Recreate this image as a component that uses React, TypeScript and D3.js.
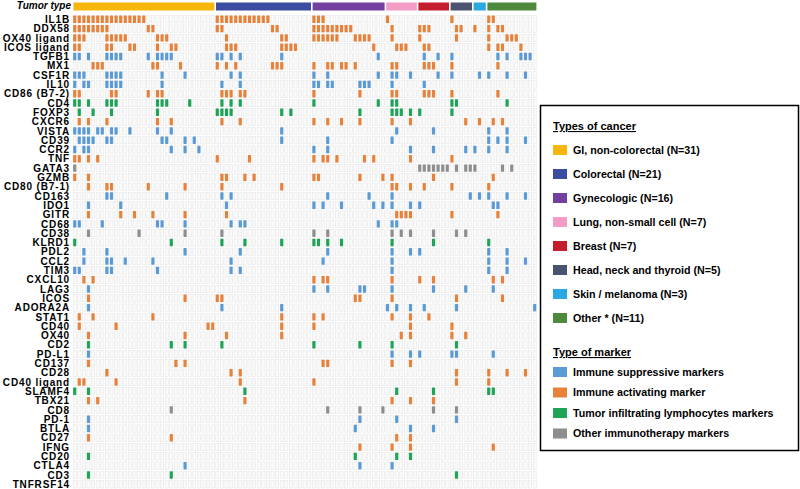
import React from "react";
import * as d3 from "d3";

const genes = ["IL1B","DDX58","OX40 ligand","ICOS ligand","TGFB1","MX1","CSF1R","IL10","CD86 (B7-2)","CD4","FOXP3","CXCR6","VISTA","CD39","CCR2","TNF","GATA3","GZMB","CD80 (B7-1)","CD163","IDO1","GITR","CD68","CD38","KLRD1","PDL2","CCL2","TIM3","CXCL10","LAG3","ICOS","ADORA2A","STAT1","CD40","OX40","CD2","PD-L1","CD137","CD28","CD40 ligand","SLAMF4","TBX21","CD8","PD-1","BTLA","CD27","IFNG","CD20","CTLA4","CD3","TNFRSF14"];

// s = suppressive, a = activating, t = TIL, o = other
const geneMarker = ["a","a","a","a","s","a","s","s","a","t","t","a","s","s","s","a","o","a","a","s","s","a","s","o","t","s","s","s","a","s","a","s","a","a","a","t","s","a","a","a","t","a","o","s","s","a","a","t","s","t","s"];

// patient columns (0..100) with the marker present, one list per gene
const geneHits: number[][] = [
  [0,1,2,3,4,5,6,7,8,9,10,11,12,13,14,15,31,32,33,34,35,36,37,38,39,40,41,42,52,53,54,68,82,90,91],
  [0,1,2,3,4,5,6,7,16,17,31,32,43,44,52,53,54,55,56,57,58,59,60,69,75,76,77,83,84,87,90,92,93],
  [0,1,2,7,8,9,10,11,18,19,20,33,45,46,52,53,54,55,56,57,61,62,63,64,69,75,83,90,94,95,96],
  [0,1,7,8,12,13,18,21,22,33,34,35,45,46,47,48,65,70,71,72,76,77,90,92,93,97],
  [0,1,3,7,8,9,10,16,18,19,20,21,31,32,34,36,45,66,76,79,82,92,94,97,98,99],
  [4,5,6,17,18,23,31,33,35,43,44,45,52,55,56,58,59,61,69,70,76,77,78,82,92],
  [0,1,2,7,8,9,10,19,24,34,36,52,55,66,69,70,73,79,82,88,90,94,98],
  [0,2,3,7,8,9,10,19,32,36,52,53,55,56,62,63,64,69,76],
  [0,1,8,9,16,18,19,32,33,34,36,37,52,62,69,70,76,77,78,82,92],
  [0,1,3,7,8,9,18,19,20,25,32,34,36,52,66,69,70,82,83,94],
  [1,4,8,18,31,32,33,34,45,47,62,69,70,71,73,75,82],
  [1,3,7,18,21,32,36,52,55,58,62,69,73,85,88,91,93],
  [0,1,2,3,5,6,8,9,12,18,21,45,70,78,90,94],
  [1,2,3,4,7,8,19,20,24,26,45,55,69,90,92,94,98],
  [0,2,3,21,24,27,52,55,73,78,85,87,90,94],
  [0,1,3,5,31,38,52,54,55,57,63,65,73,82],
  [0,75,76,77,78,79,80,81,83,85,86,87,93,95],
  [0,3,32,33,37,39,52,53,62,67,69,78,91],
  [3,7,8,16,24,32,45,69,70,73,76,82,90],
  [7,8,20,32,34,55,64,69,86,88,90,94,98],
  [3,10,33,52,54,58,65,67,69,73,75,91,92],
  [3,10,13,17,24,33,70,71,72,73,82,92],
  [0,1,6,18,19,24,34,36,37,66,69,70],
  [3,14,24,32,52,55,69,71,73,78,83,85],
  [0,21,32,37,45,52,53,55,58,69,78,90],
  [2,7,24,36,55,69,73,75,90,94],
  [2,7,8,11,17,34,54,69,90,94,98],
  [0,1,7,8,18,34,36,69,90,94],
  [2,4,52,54,55,69,75,78,91,93],
  [3,52,55,62,63,69,78,85,91],
  [3,24,31,32,61,62,69,83,93],
  [3,32,45,68,70,73,76,83,100],
  [1,4,17,45,52,54,69,73,77],
  [1,9,29,30,45,52,73,82],
  [3,24,33,45,71,73,82,85],
  [3,21,24,32,52,62,69,83],
  [3,69,73,75,82,83,91],
  [3,22,24,54,55,69,73],
  [7,34,36,83,90,94,98],
  [1,2,9,36,52,83,90],
  [0,3,37,70,78,90,91],
  [3,5,37,69,73,78],
  [21,55,62,67,78,83],
  [3,62,70,83],
  [3,61,73,78],
  [3,21,70,73],
  [62,69,73,91],
  [3,61,70,73],
  [24,62,69],
  [3,21,83],
  [],
];

const tumorTypes = ["GI, non-colorectal","Colorectal","Gynecologic","Lung, non-small cell","Breast","Head, neck and thyroid","Skin / melanoma","Other *"];
const tumorCounts = [31, 21, 16, 7, 7, 5, 3, 11];
const tumorColors = ["#F6B60C", "#3A4DA0", "#7440A0", "#F29CC6", "#C41E2E", "#4A5470", "#2BA8E0", "#4E8A3C"];
const tumorLegendLabels = ["GI, non-colorectal (N=31)","Colorectal (N=21)","Gynecologic (N=16)","Lung, non-small cell (N=7)","Breast (N=7)","Head, neck and thyroid (N=5)","Skin / melanoma (N=3)","Other * (N=11)"];

const markerKeys = ["s", "a", "t", "o"];
const markerLabels = ["Immune suppressive markers","Immune activating marker","Tumor infiltrating lymphocytes markers","Other immunotherapy markers"];
const markerColors = ["#5B9BD5", "#E8823A", "#1EA456", "#8E8E8E"];

const nPatients = d3.sum(tumorCounts);

export default function App() {
  const width = 800, height = 489;
  const x = d3.scaleBand<number>().domain(d3.range(nPatients)).range([72.4, 537]);
  const y = d3.scaleBand<string>().domain(genes).range([14.65, 488.95]);
  const colorOf = d3.scaleOrdinal<string, string>().domain(markerKeys).range(markerColors);
  const starts = d3.cumsum(tumorCounts).map((v, i) => v - tumorCounts[i]);
  const bw = x.bandwidth();
  const cellW = bw * 0.68;
  const cellH = y.bandwidth() * 0.8;
  const font = "Arial, 'Liberation Sans', sans-serif";

  return (
    <svg width={width} height={height} style={{ position: "absolute", left: 0, top: 0, background: "#fff" }} fontFamily={font}>
      <text x={71} y={9} textAnchor="end" fontSize={10} fontWeight="bold" fontStyle="italic">Tumor type</text>
      {tumorCounts.map((c, i) => (
        <rect key={"tb" + i} x={(x(starts[i]) as number) + 1} y={2.5} width={c * bw - 1.6} height={8} fill={tumorColors[i]} />
      ))}
      {genes.map((g, r) => (
        <g key={g}>
          <text x={70} y={(y(g) as number) + y.bandwidth() / 2} dy="0.36em" textAnchor="end" fontSize={10} letterSpacing={0.85} fontWeight="bold">{g}</text>
          {d3.range(nPatients).map((p) => (
            <rect key={p} x={(x(p) as number) + (bw - cellW) / 2} y={(y(g) as number) + (y.bandwidth() - cellH) / 2}
              width={cellW} height={cellH} fill="#fafafa" stroke="#e7e7e7" strokeWidth={0.6} />
          ))}
          {geneHits[r].map((p) => (
            <rect key={"h" + p} x={(x(p) as number) + (bw - cellW) / 2} y={(y(g) as number) + (y.bandwidth() - cellH) / 2}
              width={cellW} height={cellH} rx={0.6} fill={colorOf(geneMarker[r])} />
          ))}
        </g>
      ))}
      <rect x={540.5} y={105.5} width={258} height={345} fill="#fff" stroke="#000" strokeWidth={1.5} />
      <text x={553} y={130} fontSize={11} fontWeight="bold" textDecoration="underline">Types of cancer</text>
      {tumorLegendLabels.map((t, i) => (
        <g key={t} transform={`translate(0, ${150 + i * 24})`}>
          <rect x={553} y={-5} width={14} height={10} fill={tumorColors[i]} />
          <text x={573} y={0} dy="0.36em" fontSize={10.7} fontWeight="bold">{t}</text>
        </g>
      ))}
      <text x={553} y={356} fontSize={11} fontWeight="bold" textDecoration="underline">Type of marker</text>
      {markerLabels.map((t, i) => (
        <g key={t} transform={`translate(0, ${372 + i * 20.5})`}>
          <rect x={553} y={-5} width={14} height={10} fill={markerColors[i]} />
          <text x={573} y={0} dy="0.36em" fontSize={10.7} fontWeight="bold">{t}</text>
        </g>
      ))}
    </svg>
  );
}
